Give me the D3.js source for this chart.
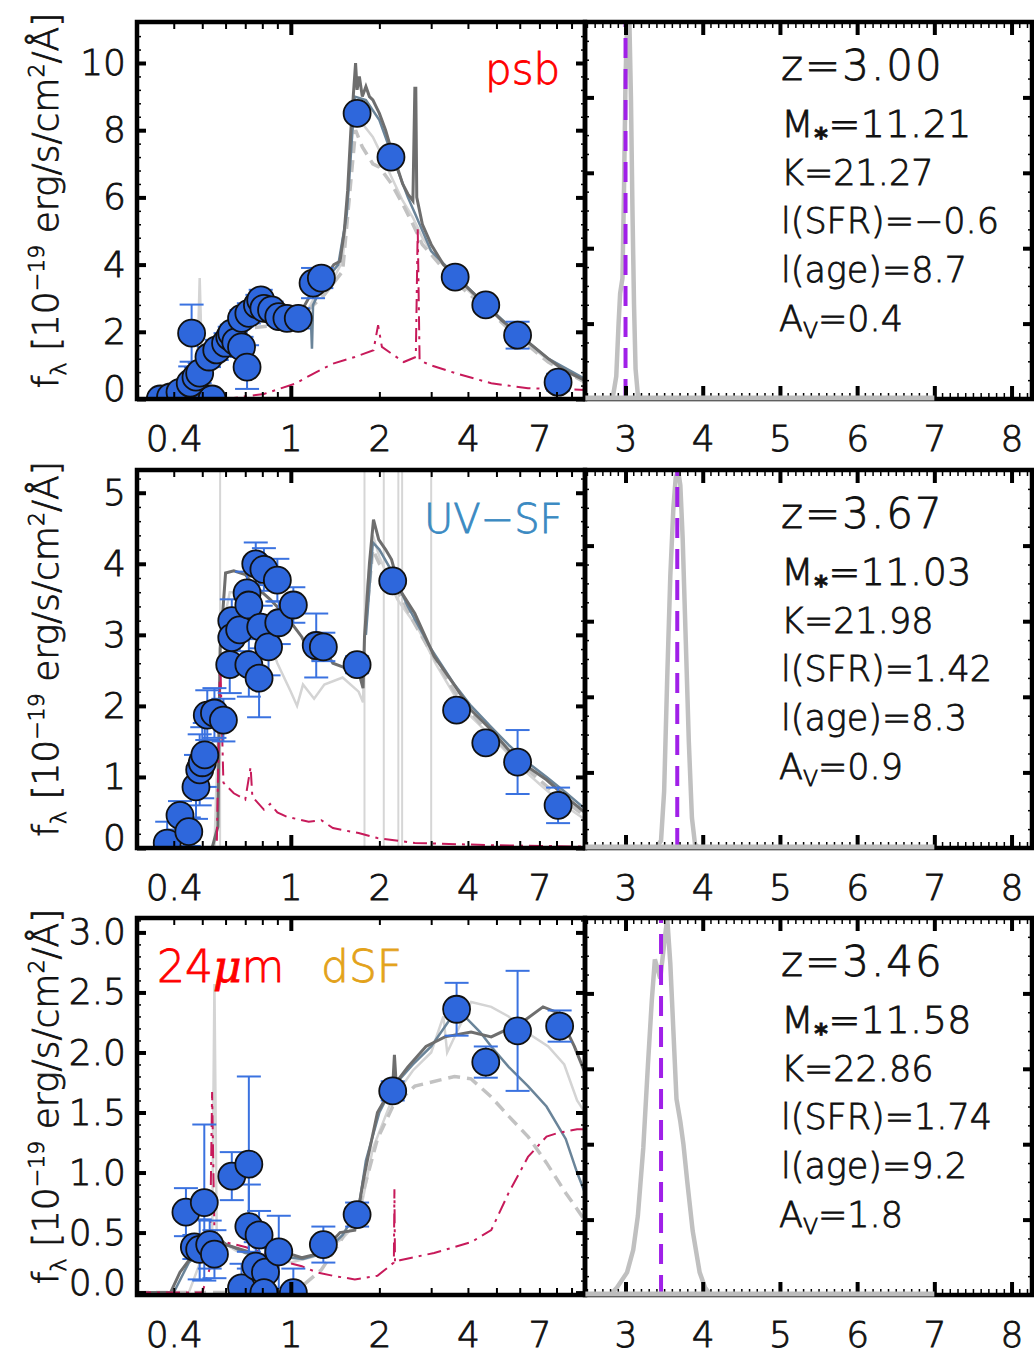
<!DOCTYPE html>
<html>
<head>
<meta charset="utf-8">
<script src="https://cdn.jsdelivr.net/npm/d3@7/dist/d3.min.js"></script>
<style>
body { margin: 0; background: #fff; }
</style>
</head>
<body>
<svg id="svg" width="1034" height="1354"></svg>
<script>
// ---- data ----
// photometry: wavelength (micron), flux (1e-19 erg/s/cm2/A), error
var psbLam  = [0.36,0.41,0.52,0.54,0.39,0.42,0.455,0.476,0.49,0.46,0.527,0.56,0.60,0.62,0.63,0.65,0.68,0.71,0.68,0.72,0.77,0.79,0.81,0.86,0.91,0.97,1.06,1.19,1.27,1.68,2.19,3.62,4.6,5.9,8.1];
var psbFlux = [0.0,0.0,0.0,0.0,0.06,0.2,0.47,0.65,0.77,1.96,1.25,1.46,1.66,1.85,1.96,1.7,1.55,0.95,2.4,2.55,2.8,2.95,2.7,2.65,2.45,2.4,2.4,3.45,3.6,8.5,7.2,3.63,2.8,1.9,0.5];
var psbErr  = [0.2,0.2,0.2,0.2,0.15,0.2,0.5,0.3,0.3,0.85,0.3,0.3,0.3,0.3,0.25,0.3,0.3,0.65,0.25,0.3,0.3,0.3,0.25,0.25,0.25,0.25,0.3,0.45,0.3,0.15,0.15,0.2,0.2,0.4,0.25];

var uvLam  = [0.38,0.42,0.45,0.476,0.49,0.50,0.51,0.52,0.55,0.59,0.62,0.63,0.63,0.67,0.71,0.72,0.72,0.78,0.76,0.81,0.79,0.84,0.90,0.91,1.02,1.22,1.29,1.68,2.22,3.66,4.6,5.9,8.1];
var uvFlux = [0.07,0.46,0.23,0.86,1.1,1.2,1.31,1.87,1.9,1.8,2.58,3.2,2.96,3.07,3.59,3.42,2.58,2.39,4.0,3.92,3.11,2.83,3.77,3.17,3.42,2.85,2.83,2.58,3.76,1.94,1.48,1.21,0.6];
var uvErr  = [0.3,0.2,0.2,0.45,0.5,0.5,0.45,0.35,0.35,0.3,0.4,0.3,0.3,0.3,0.3,0.3,0.45,0.55,0.3,0.3,0.3,0.4,0.3,0.3,0.25,0.45,0.2,0.12,0.1,0.1,0.1,0.45,0.25];

var dsfLam  = [0.44,0.47,0.49,0.508,0.53,0.55,0.63,0.72,0.68,0.72,0.78,0.76,0.82,0.81,0.91,1.02,1.29,1.68,2.22,3.66,4.6,5.9,8.2];
var dsfFlux = [0.67,0.38,0.36,0.75,0.4,0.32,0.97,1.07,0.04,0.55,0.48,0.22,0.17,0.0,0.34,0.0,0.4,0.65,1.68,2.36,1.92,2.18,2.22];
var dsfErr  = [0.2,0.1,0.25,0.65,0.2,0.2,0.2,0.73,0.2,0.35,0.2,0.2,0.2,0.2,0.3,0.2,0.15,0.1,0.08,0.22,0.13,0.5,0.13];

// model spectra [wavelength, flux]
var psbBest = [[0.3,0],[0.4,0],[0.45,0.05],[0.48,0.3],[0.5,0.6],[0.55,1.2],[0.6,1.7],[0.65,2.1],[0.7,2.3],[0.75,2.5],[0.8,2.4],[0.85,2.6],[0.9,2.5],[0.95,2.3],[1.0,2.2],[1.05,2.4],[1.1,2.7],[1.15,3.0],[1.2,3.4],[1.25,3.3],[1.3,3.6],[1.35,3.8],[1.4,4.0],[1.47,4.1],[1.52,5.0],[1.56,6.2],[1.6,8.0],[1.63,9.0],[1.66,10.0],[1.68,9.2],[1.71,9.6],[1.75,9.0],[1.8,9.3],[1.85,9.0],[1.9,8.9],[2.0,8.5],[2.1,8.0],[2.2,7.4],[2.3,6.9],[2.4,6.4],[2.5,6.1],[2.6,5.9],[2.64,9.25],[2.66,9.25],[2.68,6.0],[2.8,5.2],[3.0,4.6],[3.3,4.0],[3.6,3.7],[4.0,3.3],[4.6,2.8],[5.2,2.35],[5.9,1.95],[6.5,1.65],[7.5,1.2],[8.5,0.85],[10,0.55]];
var psbLight = [[0.3,0],[0.44,0],[0.48,0.6],[0.49,3.6],[0.5,0.8],[0.55,1.3],[0.6,1.7],[0.7,2.2],[0.8,2.4],[0.9,2.3],[1.0,2.0],[1.1,2.4],[1.2,3.0],[1.3,3.2],[1.4,3.6],[1.5,4.1],[1.58,6.5],[1.62,8.2],[1.66,8.6],[1.75,8.2],[1.9,7.8],[2.0,7.4],[2.2,6.6],[2.4,5.9],[2.6,5.4],[2.8,4.8],[3.0,4.4],[3.6,3.6],[4.6,2.75],[5.9,1.9],[7.5,1.15],[10,0.5]];
var psbDashed = [[0.3,0],[0.45,0],[0.55,1.1],[0.7,2.1],[0.9,2.2],[1.1,2.5],[1.3,3.1],[1.5,3.8],[1.6,6.5],[1.66,8.0],[1.75,7.5],[1.9,7.0],[2.0,6.9],[2.2,6.4],[2.4,5.8],[2.6,5.2],[2.8,4.6],[3.0,4.3],[3.6,3.5],[4.6,2.7],[5.9,1.85],[7.5,1.1],[10,0.5]];
var psbBlue = [[0.3,0],[0.45,0],[0.55,1.2],[0.7,2.3],[0.9,2.4],[1.1,2.6],[1.17,2.4],[1.18,1.5],[1.19,2.8],[1.3,3.5],[1.45,4.0],[1.55,5.5],[1.65,9.0],[1.8,8.9],[2.0,8.3],[2.2,7.3],[2.5,6.0],[2.65,5.5],[3.0,4.4],[3.6,3.7],[4.6,2.8],[5.9,1.95],[7.5,1.2],[10,0.6]];
var psbRed = [[0.3,0],[0.6,0],[0.81,0.15],[1.03,0.45],[1.19,0.75],[1.39,1.05],[1.65,1.25],[1.91,1.45],[1.98,2.2],[2.04,1.55],[2.2,1.35],[2.42,1.1],[2.66,1.25],[2.7,5.1],[2.74,1.15],[3.0,1.0],[3.62,0.77],[4.8,0.47],[6.4,0.32],[10,0.27]];

var uvBest = [[0.3,0],[0.54,0],[0.565,0.3],[0.575,2.8],[0.6,3.87],[0.64,3.9],[0.7,3.85],[0.75,3.7],[0.85,3.5],[0.97,3.25],[1.09,2.97],[1.19,2.65],[1.3,2.8],[1.39,2.6],[1.5,2.55],[1.6,2.5],[1.72,2.4],[1.76,2.25],[1.78,2.97],[1.85,4.0],[1.91,4.62],[1.99,4.34],[2.1,4.2],[2.2,4.06],[2.35,3.63],[2.64,3.3],[3.07,2.7],[3.56,2.32],[4.1,1.94],[4.8,1.66],[5.5,1.38],[6.4,1.14],[7.4,0.96],[8.6,0.72],[10,0.5]];
var uvLight = [[0.3,0],[0.55,0],[0.58,3.0],[0.62,3.6],[0.7,3.6],[0.8,3.2],[0.9,2.6],[1.0,2.2],[1.05,2.0],[1.1,2.3],[1.2,2.1],[1.3,2.3],[1.5,2.4],[1.7,2.2],[1.76,2.05],[1.8,3.5],[1.9,4.4],[2.0,4.1],[2.3,3.5],[2.7,3.1],[3.1,2.6],[3.6,2.15],[4.1,1.85],[5,1.5],[6,1.15],[7,0.9],[8.5,0.6],[10,0.4]];
var uvDashed = [[1.8,3.2],[1.9,4.2],[2.0,4.0],[2.2,3.8],[2.6,3.2],[3.0,2.75],[3.6,2.2],[4.5,1.7],[6,1.2],[8,0.75],[10,0.45]];
var uvBlue = [[1.8,3.0],[1.9,4.3],[2.0,4.2],[2.2,3.9],[2.5,3.4],[3.0,2.8],[3.6,2.3],[4.1,2.0],[4.8,1.7],[5.5,1.45],[6.4,1.2],[7.4,1.0],[8.6,0.78],[10,0.55]];
var uvEmission = [0.575,1.78,2.07,2.32,2.39,3.0];
var uvRed = [[0.3,0],[0.56,0],[0.575,2.7],[0.59,0.92],[0.64,0.77],[0.70,0.68],[0.73,1.14],[0.74,0.72],[0.81,0.54],[0.85,0.62],[0.9,0.5],[0.97,0.44],[1.15,0.37],[1.27,0.39],[1.39,0.28],[1.7,0.21],[1.97,0.14],[2.64,0.07],[4.8,0.04],[10,0.02]];

var dsfBest = [[0.3,0],[0.39,0],[0.42,0.17],[0.46,0.3],[0.5,0.35],[0.55,0.5],[0.6,0.4],[0.7,0.35],[0.8,0.3],[0.97,0.33],[1.09,0.29],[1.27,0.33],[1.47,0.5],[1.65,0.52],[1.76,0.92],[1.83,1.13],[1.97,1.5],[2.22,1.72],[2.25,1.98],[2.28,1.75],[2.5,1.88],[2.88,2.05],[3.34,2.13],[4.1,2.17],[4.8,2.13],[6.1,2.25],[7.2,2.38],[8.1,2.33],[9.2,2.05],[10,1.83]];
var dsfBlue = [[0.3,0],[0.4,0],[0.45,0.25],[0.55,0.45],[0.7,0.33],[0.9,0.3],[1.1,0.28],[1.3,0.33],[1.5,0.48],[1.7,0.7],[1.8,1.1],[2.0,1.5],[2.2,1.7],[2.6,1.9],[3.0,2.05],[3.6,2.33],[3.9,2.3],[4.4,2.17],[4.8,2.05],[5.5,1.88],[6.4,1.72],[7.4,1.55],[8.6,1.28],[9.4,1.0],[10,0.83]];
var dsfLight = [[0.3,0],[0.45,0],[0.5,0.3],[0.54,0.4],[0.55,2.57],[0.56,0.45],[0.65,0.35],[0.8,0.3],[1.0,0.25],[1.2,0.3],[1.5,0.45],[1.7,0.6],[1.9,1.2],[2.2,1.6],[2.6,1.85],[3.0,2.0],[3.3,2.3],[3.4,2.0],[4.1,2.42],[4.8,2.38],[5.5,2.3],[6.5,2.15],[7.5,2.05],[8.5,1.9],[9.4,1.6],[10,1.5]];
var dsfDashed = [[0.3,0],[1.03,0.0],[1.27,0.19],[1.47,0.42],[1.7,0.7],[1.97,1.28],[2.22,1.55],[2.64,1.72],[3.6,1.8],[4.1,1.78],[4.8,1.63],[5.5,1.47],[6.4,1.3],[7.4,1.08],[8.6,0.83],[10,0.6]];
var dsfRed = [[0.3,0],[0.5,0],[0.53,0.2],[0.54,1.67],[0.55,0.5],[0.56,0.28],[0.6,0.42],[0.7,0.38],[0.81,0.33],[0.97,0.25],[1.09,0.22],[1.22,0.17],[1.39,0.14],[1.65,0.11],[1.97,0.14],[2.24,0.25],[2.25,0.86],[2.26,0.25],[2.35,0.27],[3.07,0.33],[4.1,0.42],[4.8,0.52],[5.5,0.83],[6.4,1.13],[7.4,1.3],[8.1,1.33],[9.4,1.36],[10,1.36]];

// redshift probability P(z), normalised
var psbZ = [2.48,2.8,2.84,2.88,2.91,2.93,2.96,2.98,3.0,3.02,3.05,3.07,3.09,3.11,3.13,3.16,3.2,7.0];
var psbP = [0,0,0.01,0.06,0.2,0.28,0.32,0.55,0.85,1.0,1.0,0.8,0.5,0.25,0.08,0.01,0,0];
var uvZ = [2.48,3.40,3.46,3.50,3.54,3.58,3.62,3.65,3.68,3.71,3.74,3.78,3.82,3.86,3.90,3.95,7.0];
var uvP = [0,0,0.02,0.15,0.45,0.72,0.9,0.98,1.0,0.96,0.82,0.55,0.28,0.08,0.01,0,0];
var dsfZ = [2.48,2.8,2.89,3.02,3.1,3.16,3.23,3.29,3.34,3.38,3.45,3.5,3.54,3.58,3.62,3.66,3.71,3.75,3.8,3.87,3.96,4.03,4.1,7.0];
var dsfP = [0,0,0.02,0.06,0.12,0.21,0.39,0.61,0.78,0.89,0.84,0.93,1.0,0.88,0.7,0.52,0.46,0.4,0.3,0.17,0.06,0.02,0,0];

var zBest = [3.00, 3.67, 3.46];
var mass = ['11.21', '11.03', '11.58'];
var kMag = ['21.27', '21.98', '22.86'];
var lsfr = ['\u22120.6', '1.42', '1.74'];
var lage = ['8.7', '8.3', '9.2'];
var av = ['0.4', '0.9', '1.8'];

var FONT = 'DejaVu Sans';
var WEIGHT = 300;
var svg = d3.select('svg');

// light face thickened a little with a thin outline
function thicken(sel, color) {
    sel.attr('stroke', color || '#111').attr('stroke-width', 0.8).attr('paint-order', 'stroke');
}

var rows = [
    {top: 22,  bottom: 399,  yDom: [0, 11.22], yTicks: [0,2,4,6,8,10], yMinor: 0.4, fmt: d3.format('d'),
     lam: psbLam, flux: psbFlux, err: psbErr, light: psbLight, dashed: psbDashed, blue: psbBlue, best: psbBest, red: psbRed, emission: [],
     z: psbZ, p: psbP},
    {top: 470, bottom: 848,  yDom: [0, 5.32], yTicks: [0,1,2,3,4,5], yMinor: 0.2, fmt: d3.format('d'),
     lam: uvLam, flux: uvFlux, err: uvErr, light: uvLight, dashed: uvDashed, blue: uvBlue, best: uvBest, red: uvRed, emission: uvEmission,
     z: uvZ, p: uvP},
    {top: 918, bottom: 1295, yDom: [-0.02, 3.12], yTicks: [0,0.5,1,1.5,2,2.5,3], yMinor: 0.1, fmt: d3.format('.1f'),
     lam: dsfLam, flux: dsfFlux, err: dsfErr, light: dsfLight, dashed: dsfDashed, blue: dsfBlue, best: dsfBest, red: dsfRed, emission: [],
     z: dsfZ, p: dsfP}
];

var L0 = 137, L1 = 585, R0 = 585, R1 = 1032;

function tickGroup(g, axis, transform, width) {
    var a = g.append('g').attr('transform', transform).call(axis);
    a.select('.domain').remove();
    a.selectAll('line').attr('stroke', '#000').attr('stroke-width', width || 2);
    return a;
}

rows.forEach(function(r, i) {
    var x = d3.scaleLog().domain([0.3, 10]).range([L0, L1]);
    var y = d3.scaleLinear().domain(r.yDom).range([r.bottom, r.top]);
    var xz = d3.scaleLinear().domain([2.475, 8.265]).range([R0, R1]);
    var yp = d3.scaleLinear().domain([0, 1.0]).range([r.bottom, r.top]);

    var g = svg.append('g');

    // clip paths
    svg.append('clipPath').attr('id', 'clipL' + i).append('rect')
        .attr('x', L0).attr('y', r.top).attr('width', L1 - L0).attr('height', r.bottom - r.top);
    svg.append('clipPath').attr('id', 'clipR' + i).append('rect')
        .attr('x', R0).attr('y', r.top - 2).attr('width', R1 - R0).attr('height', r.bottom - r.top + 2);

    var line = d3.line().x(function(d){ return x(d[0]); }).y(function(d){ return y(d[1]); });

    var lg = g.append('g').attr('clip-path', 'url(#clipL' + i + ')');

    // emission lines
    lg.selectAll('.em').data(r.emission).enter().append('line')
        .attr('x1', function(d){ return x(d); }).attr('x2', function(d){ return x(d); })
        .attr('y1', y(0)).attr('y2', r.top)
        .attr('stroke', '#d6d6d6').attr('stroke-width', 2);

    lg.append('path').datum(r.light).attr('d', line)
        .attr('fill', 'none').attr('stroke', '#d4d4d4').attr('stroke-width', 2.5);
    lg.append('path').datum(r.dashed).attr('d', line)
        .attr('fill', 'none').attr('stroke', '#c2c2c2').attr('stroke-width', 3.5).attr('stroke-dasharray', '12,7');
    lg.append('path').datum(r.blue).attr('d', line)
        .attr('fill', 'none').attr('stroke', '#6a8499').attr('stroke-width', 2.5);
    lg.append('path').datum(r.best).attr('d', line)
        .attr('fill', 'none').attr('stroke', '#6e6e6e').attr('stroke-width', 3);
    lg.append('path').datum(r.red).attr('d', line)
        .attr('fill', 'none').attr('stroke', '#c71a5a').attr('stroke-width', 2)
        .attr('stroke-dasharray', '14,6,3,6');

    // photometry, clipped to the panel like the original
    var pts = r.lam.map(function(l, k){ return {l: l, f: r.flux[k], e: r.err[k]}; });
    var eg = lg.append('g').attr('stroke', '#3a72e0').attr('stroke-width', 2);
    pts.forEach(function(d) {
        var cx = x(d.l), yt = y(d.f + d.e), yb = y(d.f - d.e);
        eg.append('line').attr('x1', cx).attr('x2', cx).attr('y1', yt).attr('y2', yb);
        eg.append('line').attr('x1', cx - 12).attr('x2', cx + 12).attr('y1', yt).attr('y2', yt);
        eg.append('line').attr('x1', cx - 12).attr('x2', cx + 12).attr('y1', yb).attr('y2', yb);
    });
    lg.append('g').selectAll('circle').data(pts).enter().append('circle')
        .attr('cx', function(d){ return x(d.l); })
        .attr('cy', function(d){ return y(d.f); })
        .attr('r', 13.5)
        .attr('fill', '#2e67dc').attr('stroke', '#111').attr('stroke-width', 1.8);

    // P(z)
    var rg = g.append('g').attr('clip-path', 'url(#clipR' + i + ')');
    var zl = d3.line().x(function(d){ return xz(d[0]); }).y(function(d){ return yp(d[1]); });
    var pz = r.z.map(function(z, k){ return [z, r.p[k]]; });
    rg.append('path').datum(pz).attr('d', zl)
        .attr('fill', 'none').attr('stroke', '#c0c0c0').attr('stroke-width', 4.5);
    rg.append('line')
        .attr('x1', xz(zBest[i])).attr('x2', xz(zBest[i]))
        .attr('y1', r.bottom).attr('y2', r.top)
        .attr('stroke', '#a020e8').attr('stroke-width', 4).attr('stroke-dasharray', '20,11');

    // ---- axes (inward ticks on all sides) ----
    var logMinor = [0.3,0.4,0.5,0.6,0.7,0.8,0.9,2,3,4,5,6,7,8,9];
    tickGroup(g, d3.axisBottom(x).tickValues(logMinor).tickSize(-7).tickFormat(''), 'translate(0,' + r.bottom + ')');
    tickGroup(g, d3.axisBottom(x).tickValues([1]).tickSize(-13).tickFormat(''), 'translate(0,' + r.bottom + ')', 4);
    tickGroup(g, d3.axisTop(x).tickValues(logMinor).tickSize(-7).tickFormat(''), 'translate(0,' + r.top + ')');
    tickGroup(g, d3.axisTop(x).tickValues([1]).tickSize(-13).tickFormat(''), 'translate(0,' + r.top + ')', 4);

    var yMinorVals = d3.range(r.yDom[0] < 0 ? 0 : r.yDom[0], r.yDom[1], r.yMinor);
    tickGroup(g, d3.axisLeft(y).tickValues(yMinorVals).tickSize(-4).tickFormat(''), 'translate(' + L0 + ',0)', 1.5);
    tickGroup(g, d3.axisLeft(y).tickValues(r.yTicks).tickSize(-9).tickFormat(''), 'translate(' + L0 + ',0)', 4);
    tickGroup(g, d3.axisRight(y).tickValues(yMinorVals).tickSize(-4).tickFormat(''), 'translate(' + L1 + ',0)', 1.5);
    tickGroup(g, d3.axisRight(y).tickValues(r.yTicks).tickSize(-9).tickFormat(''), 'translate(' + L1 + ',0)', 4);

    var zMinor = d3.range(2.5, 8.26, 0.1);
    var zMajor = [3,4,5,6,7,8];
    tickGroup(g, d3.axisBottom(xz).tickValues(zMinor).tickSize(-6).tickFormat(''), 'translate(0,' + r.bottom + ')', 1.5);
    tickGroup(g, d3.axisBottom(xz).tickValues(zMajor).tickSize(-13).tickFormat(''), 'translate(0,' + r.bottom + ')', 4);
    tickGroup(g, d3.axisTop(xz).tickValues(zMinor).tickSize(-6).tickFormat(''), 'translate(0,' + r.top + ')', 1.5);
    tickGroup(g, d3.axisTop(xz).tickValues(zMajor).tickSize(-13).tickFormat(''), 'translate(0,' + r.top + ')', 4);

    var pMinor = d3.range(0.05, 1.0, 0.05);
    var pMajor = [0.2,0.4,0.6,0.8];
    tickGroup(g, d3.axisLeft(yp).tickValues(pMinor).tickSize(-4).tickFormat(''), 'translate(' + R0 + ',0)', 1.5);
    tickGroup(g, d3.axisLeft(yp).tickValues(pMajor).tickSize(-9).tickFormat(''), 'translate(' + R0 + ',0)', 4);
    tickGroup(g, d3.axisRight(yp).tickValues(pMinor).tickSize(-4).tickFormat(''), 'translate(' + R1 + ',0)', 1.5);
    tickGroup(g, d3.axisRight(yp).tickValues(pMajor).tickSize(-9).tickFormat(''), 'translate(' + R1 + ',0)', 4);

    // frames
    g.append('rect').attr('x', L0).attr('y', r.top).attr('width', L1 - L0).attr('height', r.bottom - r.top)
        .attr('fill', 'none').attr('stroke', '#000').attr('stroke-width', 4.5);
    g.append('rect').attr('x', R0).attr('y', r.top).attr('width', R1 - R0).attr('height', r.bottom - r.top)
        .attr('fill', 'none').attr('stroke', '#000').attr('stroke-width', 4.5);

    // zero part of P(z) runs along the bottom frame, drawn over it up to z=7
    g.append('line')
        .attr('x1', xz(pz[0][0])).attr('x2', xz(pz[pz.length - 1][0]))
        .attr('y1', yp(0) - 1).attr('y2', yp(0) - 1)
        .attr('stroke', '#bdbdbd').attr('stroke-width', 5);

    // tick labels
    var xl = tickGroup(g, d3.axisBottom(x).tickValues([0.4,1,2,4,7]).tickSize(0).tickPadding(26).tickFormat(d3.format('')),
        'translate(0,' + r.bottom + ')');
    var zlab = tickGroup(g, d3.axisBottom(xz).tickValues(zMajor).tickSize(0).tickPadding(26).tickFormat(d3.format('d')),
        'translate(0,' + r.bottom + ')');
    var yl = tickGroup(g, d3.axisLeft(y).tickValues(r.yTicks).tickSize(0).tickPadding(11).tickFormat(r.fmt),
        'translate(' + L0 + ',0)');
    [xl, zlab, yl].forEach(function(a) {
        a.attr('font-family', FONT).attr('font-size', 36).attr('font-weight', WEIGHT);
        thicken(a.selectAll('text').attr('fill', '#111'));
    });
    yl.selectAll('text').filter(function(d){ return d === 0; }).attr('dy', '0.05em');

    // y title
    var cy = (r.top + r.bottom) / 2 - 10;
    var t = g.append('text').attr('transform', 'translate(58,' + cy + ') rotate(-90)')
        .attr('text-anchor', 'middle').attr('font-family', FONT).attr('font-size', 36)
        .attr('font-weight', WEIGHT).attr('fill', '#111');
    thicken(t);
    t.append('tspan').text('f');
    t.append('tspan').attr('font-size', 22).attr('dy', 8).text('\u03bb');
    t.append('tspan').attr('dy', -8).text(' [10');
    t.append('tspan').attr('font-size', 22).attr('dy', -14).text('\u221219');
    t.append('tspan').attr('dy', 14).text(' erg/s/cm');
    t.append('tspan').attr('font-size', 22).attr('dy', -14).text('2');
    t.append('tspan').attr('dy', 14).text('/\u00c5]');

    // parameter text
    var tx = 781, tb = r.top;
    var pt = g.append('g').attr('font-family', FONT).attr('font-weight', WEIGHT).attr('fill', '#111');
    thicken(pt);
    pt.append('text').attr('x', tx).attr('y', tb + 58).attr('font-size', 42).attr('letter-spacing', 2)
        .text('z=' + zBest[i].toFixed(2));
    var mt = pt.append('text').attr('x', tx).attr('y', tb + 115).attr('font-size', 38).attr('letter-spacing', 0.5);
    mt.append('tspan').text('M');
    mt.append('tspan').attr('font-size', 26).attr('font-weight', 700).attr('dy', 10).text('*');
    mt.append('tspan').attr('dy', -10).text('=' + mass[i]);
    pt.append('text').attr('x', tx).attr('y', tb + 163).attr('font-size', 35).text('K=' + kMag[i]);
    pt.append('text').attr('x', tx).attr('y', tb + 211).attr('font-size', 35).text('l(SFR)=' + lsfr[i]);
    pt.append('text').attr('x', tx).attr('y', tb + 260).attr('font-size', 35).text('l(age)=' + lage[i]);
    var at = pt.append('text').attr('x', tx - 2).attr('y', tb + 309).attr('font-size', 35);
    at.append('tspan').text('A');
    at.append('tspan').attr('font-size', 22).attr('dy', 7).text('V');
    at.append('tspan').attr('dy', -7).text('=' + av[i]);
});

// class labels
var lab = svg.append('g').attr('font-family', FONT).attr('font-weight', WEIGHT);
thicken(lab.append('text').attr('x', 485).attr('y', 84).attr('font-size', 42)
    .attr('fill', '#ff0000').text('psb'), '#ff0000');
thicken(lab.append('text').attr('x', 424).attr('y', 533).attr('font-size', 40)
    .attr('fill', '#3b8ac2').text('UV\u2212SF'), '#3b8ac2');
var t24 = lab.append('text').attr('x', 157).attr('y', 982).attr('font-size', 44).attr('fill', '#ff0000');
thicken(t24, '#ff0000');
t24.append('tspan').text('24');
t24.append('tspan').attr('font-style', 'italic').attr('font-family', 'DejaVu Serif').attr('font-weight', 400).text('\u03bc');
t24.append('tspan').text('m');
thicken(lab.append('text').attr('x', 321).attr('y', 982).attr('font-size', 44)
    .attr('fill', '#e3a21a').text('dSF'), '#e3a21a');
</script>
</body>
</html>
